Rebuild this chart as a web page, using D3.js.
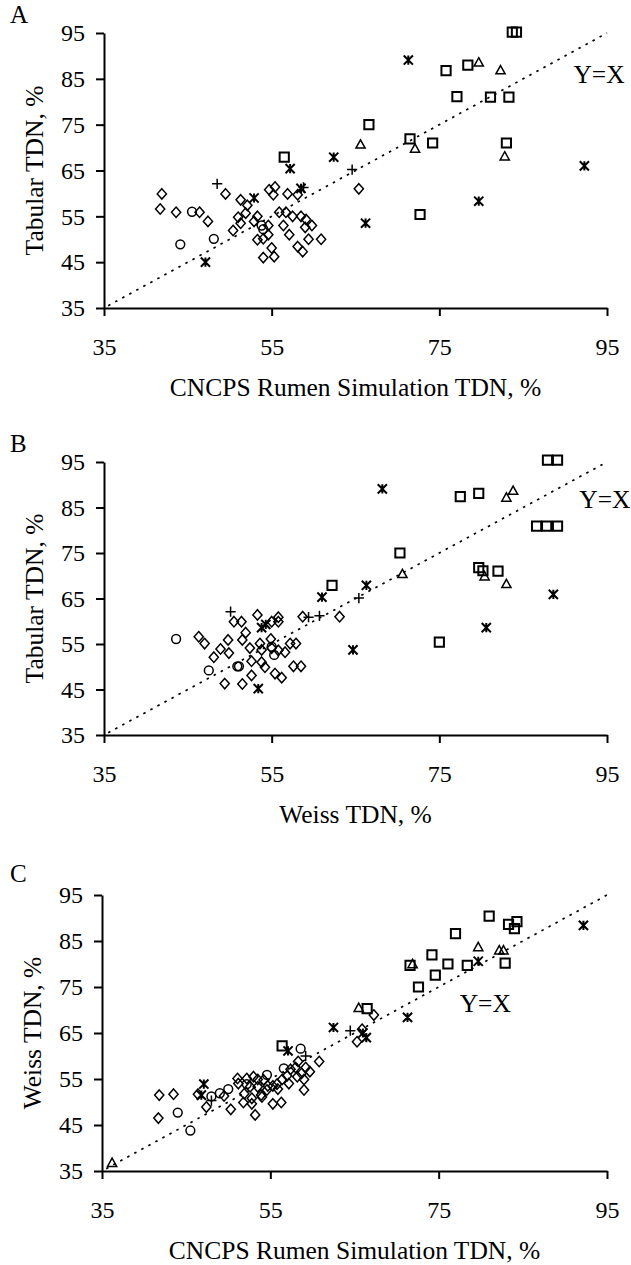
<!DOCTYPE html>
<html><head><meta charset="utf-8">
<script src="https://cdn.jsdelivr.net/npm/d3@7"></script>
<style>body{margin:0;background:#fff}svg{display:block}text{font-family:"Liberation Serif","Times New Roman",serif;fill:#000}</style>
</head><body>
<script>
// ---------- DATA ----------
const ticks = [35, 55, 75, 95];
const yTicks = [35, 45, 55, 65, 75, 85, 95];

// Panel A: Tabular vs CNCPS
const aDiamond = [[41.9,59.9],[41.7,56.6],[43.6,55.9],[46.4,55.9],[47.4,53.9],[49.5,59.9],[50.4,51.9],[51.3,58.6],[51,54.8],[51.3,53.5],[52.1,57.4],[51.9,55.7],[52.9,53.9],[53.3,55],[53.3,49.9],[54,50.1],[54,46],[54.6,51],[54.6,53],[54.7,60.8],[55.4,61.4],[55.2,59.7],[55,48.1],[55.3,46.2],[55.9,55.9],[56.4,53],[56.7,55.9],[56.9,59.9],[57.1,51],[57.5,55],[58.1,59.7],[58.1,48.4],[58.5,55],[58.7,47.3],[59,52.6],[59.1,54.3],[59.4,50],[59.8,53],[60.9,50],[65.4,61]];
const aCircle = [[44.1,48.9],[48.1,50.1],[45.5,56],[53.8,53],[54,52.2]];
const aSquare = [[83.7,95.2],[84.2,95.2],[75.8,86.8],[78.4,88],[77.1,81.1],[81.1,81],[83.3,81],[66.6,75],[71.5,71.9],[74.2,71],[83,71],[56.5,67.9],[72.7,55.4]];
const aTriangle = [[79.7,88.6],[82.3,86.9],[65.6,70.7],[72.1,69.8],[82.8,68.1]];
const aStar = [[71.3,89.1],[57.2,65.4],[62.4,67.9],[92.3,66],[52.9,59],[58.5,61.1],[66.2,53.5],[79.7,58.3],[47.1,45]];
const aPlus = [[64.6,65.2],[48.5,62.1],[58.8,61.3]];

// Panel B: Tabular vs Weiss
const bDiamond = [[46.3,56.6],[47,55.1],[48.1,52.1],[48.9,53.9],[49.8,55.9],[49.9,53],[49.4,46.3],[50.5,59.9],[51.4,59.9],[51.5,55.9],[51.9,57.5],[52.4,54.1],[52.6,51.2],[51.5,46.2],[52.6,48.1],[53.3,61.4],[53.6,55.1],[53.8,53.7],[53.8,51],[54.2,49.9],[54.9,56.1],[55,59.9],[55.8,60.9],[55.8,59.9],[55.4,48.5],[55.8,53.6],[56.2,47.6],[56.6,53.2],[57.2,55.1],[57.9,55.1],[57.6,50.1],[58.5,50.1],[55,54.1],[58.7,61],[63.1,61]];
const bCircle = [[43.6,56.1],[47.5,49.2],[50.9,50.1],[51.1,50.1],[55.3,52.6],[55,54.4]];
const bSquare = [[87.9,95.4],[89.1,95.4],[77.5,87.4],[79.7,88.1],[86.6,80.9],[87.8,80.9],[89.1,80.9],[70.3,75],[79.7,71.8],[80.2,71.1],[82,71],[62.2,67.9],[75,55.4]];
const bTriangle = [[83,87.2],[83.8,88.7],[70.6,70.4],[80.4,69.9],[83,68.2]];
const bStar = [[68.2,89.1],[88.6,65.9],[61,65.3],[66.3,67.9],[80.6,58.6],[64.7,53.7],[53.4,45.2],[54.3,59.3],[53.8,58.6]];
const bPlus = [[65.4,65.1],[59.4,60.9],[60.7,61.2],[50.1,62.1]];

// Panel C: Weiss vs CNCPS
const cDiamond = [[67.3,68.9],[65.9,65.8],[65.3,63.1],[58.3,58.8],[60.8,58.8],[57.4,57.1],[58,57.5],[59.2,57.5],[59.7,56.6],[58.7,56.2],[58.2,55.5],[57,55.7],[59,54.9],[56.4,54.9],[55.8,53.9],[57.2,54],[59,52.6],[55.9,52.8],[55.3,53.5],[54.6,52.6],[54.7,53.5],[54.2,54.8],[53.5,54.9],[53,55.5],[52.2,55.1],[51.1,55.1],[51.2,54],[52.6,53.3],[51.9,51.8],[52.8,50.8],[53.9,51.5],[54,51.1],[53.5,53.3],[49.5,51.3],[46.4,51.7],[41.8,51.5],[43.5,51.7],[47.4,48.9],[50.3,48.4],[51.8,49.9],[52.8,49.6],[55.3,49.6],[56.3,49.9],[53.2,47.2],[41.7,46.5]];
const cCircle = [[58.6,61.6],[56.6,57.3],[50,52.8],[49,51.9],[48,51.2],[44,47.7],[45.5,43.8],[54.6,55.9],[52.2,53.9]];
const cSquare = [[81,90.4],[83.3,88.6],[84.3,89.2],[84,87.7],[77,86.6],[74.2,82],[76.1,80],[78.4,79.7],[82.9,80.2],[71.6,79.7],[74.6,77.6],[72.6,75],[66.5,70.3],[56.4,62.2]];
const cTriangle = [[79.7,83.7],[82.2,83],[82.7,83],[71.9,80],[65.5,70.5],[36.2,36.8]];
const cStar = [[92.2,88.4],[79.7,80.6],[71.3,68.4],[62.5,66.2],[66.4,64],[66,65],[57.1,61.1],[46.8,51.5],[47.1,53.9]];
const cPlus = [[64.5,65.5],[59.2,60],[48,50.3]];

const panels = [
  {letter:"A", letterY:23, xr:[104,607], yr:[308,33], yTitleX:43, xTitle:"CNCPS Rumen Simulation TDN, %", yTitle:"Tabular TDN, %",
   series:{diamond:aDiamond,circle:aCircle,square:aSquare,triangle:aTriangle,star:aStar,plus:aPlus}, yx:[91,84.2]},
  {letter:"B", letterY:452, xr:[104,607], yr:[735,462], yTitleX:43, xTitle:"Weiss TDN, %", yTitle:"Tabular TDN, %",
   series:{diamond:bDiamond,circle:bCircle,square:bSquare,triangle:bTriangle,star:bStar,plus:bPlus}, yx:[91.7,85]},
  {letter:"C", letterY:882, xr:[102,607], yr:[1171,895], yTitleX:41, xTitle:"CNCPS Rumen Simulation TDN, %", yTitle:"Weiss TDN, %",
   series:{diamond:cDiamond,circle:cCircle,square:cSquare,triangle:cTriangle,star:cStar,plus:cPlus}, yx:[77.5,69.6]}
];

// ---------- DRAW ----------
const W = 631, H = 1265;
const svg = d3.select("body").append("svg").attr("width", W).attr("height", H);

function markerPath(type){
  const s = 4.6;
  switch(type){
    case "diamond": return `M0,${-s-0.6}L${s},0L0,${s+0.6}L${-s},0Z`;
    case "square": return `M${-s},${-s}H${s}V${s}H${-s}Z`;
    case "triangle": return `M0,${-s}L${s},${s*0.8}H${-s}Z`;
    case "circle": return d3.symbol(d3.symbolCircle, Math.PI*4.4*4.4)();
    case "star": return `M${-s},${-s}L${s},${s}M${-s},${s}L${s},${-s}M0,${-s}V${s}`;
    case "plus": return `M${-s-0.5},0H${s+0.5}M0,${-s-0.5}V${s+0.5}`;
  }
}

panels.forEach(p => {
  const g = svg.append("g");
  const x = d3.scaleLinear().domain([35,95]).range(p.xr);
  const y = d3.scaleLinear().domain([35,95]).range(p.yr);

  g.append("text").attr("x", 10).attr("y", p.letterY).style("font-size","25px").text(p.letter);

  // diagonal Y=X
  g.append("line").attr("x1", x(35.5)).attr("y1", y(35.5)).attr("x2", x(95)).attr("y2", y(95))
    .attr("stroke","#000").attr("stroke-width",1.7).attr("stroke-dasharray","2.5,5.5");

  const yAxis = g.append("g").attr("transform",`translate(${x(35)},0)`)
    .call(d3.axisLeft(y).tickValues(yTicks).tickSize(8).tickSizeOuter(0).tickPadding(11));
  const xAxis = g.append("g").attr("transform",`translate(0,${y(35)})`)
    .call(d3.axisBottom(x).tickValues(ticks).tickSize(8).tickSizeOuter(0).tickPadding(22));
  [yAxis,xAxis].forEach(a => {
    a.select(".domain").attr("stroke","#000").attr("stroke-width",2);
    a.selectAll(".tick line").attr("stroke","#000").attr("stroke-width",2);
    a.selectAll(".tick text").style("font-family",'"Liberation Serif",serif').style("font-size","24px").attr("fill","#000");
  });

  g.append("text").attr("x", (x(35)+x(95))/2).attr("y", y(35)+88).attr("text-anchor","middle")
    .style("font-size","25.5px").text(p.xTitle);
  g.append("text").attr("transform",`translate(${p.yTitleX},${(y(35)+y(95))/2}) rotate(-90)`).attr("text-anchor","middle")
    .style("font-size","25.5px").text(p.yTitle);

  g.append("text").attr("x", x(p.yx[0])).attr("y", y(p.yx[1])).style("font-size","25.5px").text("Y=X");

  Object.entries(p.series).forEach(([type, pts]) => {
    g.append("g").selectAll("path").data(pts).join("path")
      .attr("transform", d => `translate(${x(d[0])},${y(d[1])})`)
      .attr("d", markerPath(type))
      .attr("fill","none").attr("stroke","#000")
      .attr("stroke-width", type==="square"||type==="star" ? 2 : 1.5);
  });
});
</script>
</body></html>
